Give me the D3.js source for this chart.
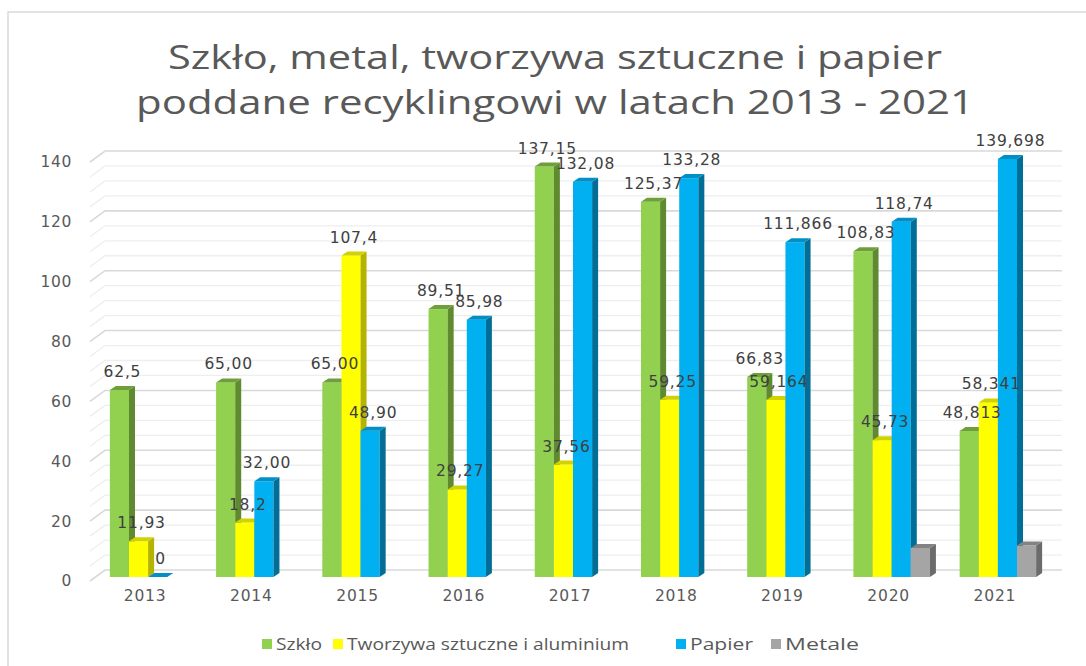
<!DOCTYPE html>
<html>
<head>
<meta charset="utf-8">
<script src="https://cdn.jsdelivr.net/npm/d3@7"></script>
<style>
  body { margin: 0; background: #fff; }
  svg { display: block; }
</style>
</head>
<body>
<svg width="1086" height="666"></svg>
<script>
const years = ["2013", "2014", "2015", "2016", "2017", "2018", "2019", "2020", "2021"];
const seriesNames = ["Szkło", "Tworzywa sztuczne i aluminium", "Papier", "Metale"];

const szklo = [62.5, 65.00, 65.00, 89.51, 137.15, 125.37, 66.83, 108.83, 48.813];
const tworzywa = [11.93, 18.2, 107.4, 29.27, 37.56, 59.25, 59.164, 45.73, 58.341];
const papier = [0, 32.00, 48.90, 85.98, 132.08, 133.28, 111.866, 118.74, 139.698];
const metale = [null, null, null, null, null, null, null, 9.7, 10.5];

const szkloLabels = ["62,5", "65,00", "65,00", "89,51", "137,15", "125,37", "66,83", "108,83", "48,813"];
const tworzywaLabels = ["11,93", "18,2", "107,4", "29,27", "37,56", "59,25", "59,164", "45,73", "58,341"];
const papierLabels = ["0", "32,00", "48,90", "85,98", "132,08", "133,28", "111,866", "118,74", "139,698"];
const metaleLabels = [null, null, null, null, null, null, null, null, null];

const yTicks = [0, 20, 40, 60, 80, 100, 120, 140];

const values = [szklo, tworzywa, papier, metale];
const labels = [szkloLabels, tworzywaLabels, papierLabels, metaleLabels];
// front, side, top
const colors = [
  ["#92d050", "#5f8a30", "#6f9f3a"],
  ["#ffff00", "#b3b300", "#d2d200"],
  ["#00b0f0", "#006e96", "#0090c6"],
  ["#a5a5a5", "#6b6b6b", "#838383"]
];

const svg = d3.select("svg");
const depthX = 6, depthY = 4;

// chart frame
svg.append("path")
  .attr("d", "M8,666V12H1086")
  .attr("fill", "none")
  .attr("stroke", "#d9d9d9")
  .attr("stroke-width", 1.5);

// title
const title = svg.append("g")
  .attr("font-family", "'Open Sans', sans-serif")
  .attr("font-size", 33)
  .attr("fill", "#595959")
  .attr("text-anchor", "middle");
title.append("text").attr("x", 555).attr("y", 69)
  .attr("textLength", 774).attr("lengthAdjust", "spacingAndGlyphs")
  .text("Szkło, metal, tworzywa sztuczne i papier");
title.append("text").attr("x", 555).attr("y", 114)
  .attr("textLength", 838).attr("lengthAdjust", "spacingAndGlyphs")
  .text("poddane recyklingowi w latach 2013 - 2021");

const y = d3.scaleLinear().domain([0, 140]).range([577, 158]);

const x0 = d3.scaleBand().domain(years).range([95, 1051])
  .paddingInner(0.28).paddingOuter(0.14);
const x1 = d3.scaleBand().domain(seriesNames).range([0, x0.bandwidth()]);

// gridlines (back wall + floor edge)
const grid = svg.append("g");
d3.range(0, 141, 5).forEach(v => {
  const major = v % 20 === 0;
  const yy = y(v);
  grid.append("path")
    .attr("d", `M90,${yy + 4}L105,${yy - 7}H1062`)
    .attr("fill", "none")
    .attr("stroke", major ? "#d9d9d9" : "#eeeeee")
    .attr("stroke-width", major ? 1.6 : 1.3);
});

// y axis labels
const yAxis = svg.append("g")
  .attr("transform", "translate(72,4)")
  .call(d3.axisLeft(y).tickValues(yTicks).tickSize(0).tickPadding(0));
yAxis.select(".domain").remove();
yAxis.selectAll("text")
  .attr("font-family", "'DejaVu Sans', sans-serif")
  .attr("font-size", 15.5)
  .attr("letter-spacing", 0.6)
  .attr("fill", "#595959");

// x axis labels
const xAxis = svg.append("g")
  .attr("transform", "translate(-3,590)")
  .call(d3.axisBottom(x0).tickSize(0).tickPadding(0));
xAxis.select(".domain").remove();
xAxis.selectAll("text")
  .attr("font-family", "'DejaVu Sans', sans-serif")
  .attr("font-size", 15.5)
  .attr("letter-spacing", 0.8)
  .attr("fill", "#595959");

// bars
const bars = svg.append("g");
years.forEach((yr, i) => {
  seriesNames.forEach((s, k) => {
    const v = values[k][i];
    if (v === null || v === undefined) return;
    const xl = x0(yr) + x1(s);
    const w = x1.bandwidth();
    const yt = y(v), yb = y(0);
    const c = colors[k];
    const g = bars.append("g");
    g.append("rect").attr("x", xl).attr("y", yt)
      .attr("width", w).attr("height", yb - yt).attr("fill", c[0]);
    g.append("path")
      .attr("d", `M${xl + w},${yt}L${xl + w + depthX},${yt - depthY}L${xl + w + depthX},${yb - depthY}L${xl + w},${yb}Z`)
      .attr("fill", c[1]);
    g.append("path")
      .attr("d", `M${xl},${yt}L${xl + depthX},${yt - depthY}L${xl + w + depthX},${yt - depthY}L${xl + w},${yt}Z`)
      .attr("fill", c[2]);
  });
});

// data labels
const dl = svg.append("g")
  .attr("font-family", "'DejaVu Sans', sans-serif")
  .attr("font-size", 15.5)
  .attr("letter-spacing", 0.8)
  .attr("fill", "#404040")
  .attr("text-anchor", "middle");
years.forEach((yr, i) => {
  seriesNames.forEach((s, k) => {
    const t = labels[k][i];
    if (!t) return;
    const cx = x0(yr) + x1(s) + x1.bandwidth() / 2 + 3;
    dl.append("text").attr("x", cx).attr("y", y(values[k][i]) - 13).text(t);
  });
});

// legend
const legendX = [262, 333, 676, 771];
const legendW = [46, 282, 63, 74];
const legend = svg.append("g")
  .attr("font-family", "'Open Sans', sans-serif")
  .attr("font-size", 15.5)
  .attr("fill", "#595959");
seriesNames.forEach((s, k) => {
  legend.append("rect").attr("x", legendX[k]).attr("y", 639)
    .attr("width", 10).attr("height", 10).attr("fill", colors[k][0]);
  legend.append("text").attr("x", legendX[k] + 14).attr("y", 650)
    .attr("textLength", legendW[k]).attr("lengthAdjust", "spacingAndGlyphs")
    .text(s);
});
</script>
</body>
</html>
